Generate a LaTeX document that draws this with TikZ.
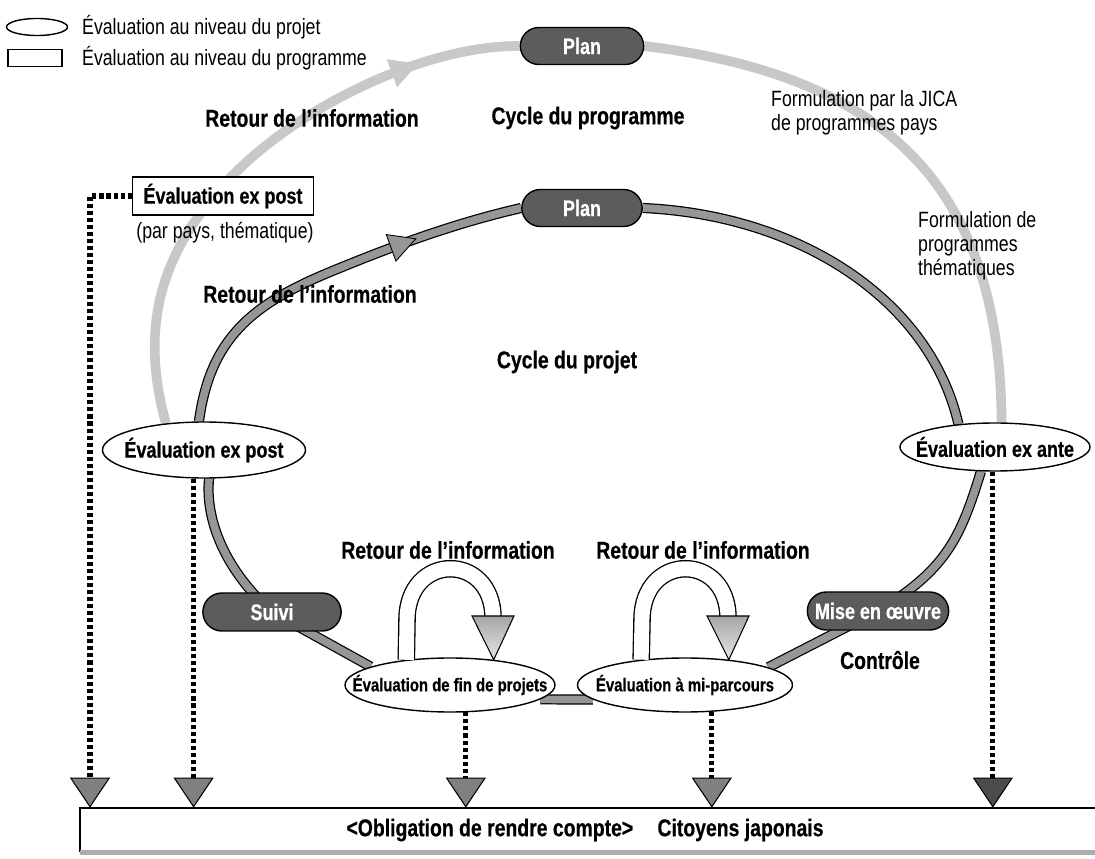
\documentclass[tikz,border=0pt]{standalone}
\usepackage{fontspec}
\setmainfont{Liberation Sans}[FakeStretch=0.8, BoldFeatures={FakeBold=0.5}]
\usepackage{tikz}
\usetikzlibrary{shapes.geometric, shapes.misc, arrows.meta, positioning, backgrounds, decorations.markings}
\definecolor{pillgray}{RGB}{92,92,92}
\definecolor{bandgray}{RGB}{150,150,150}
\definecolor{ringgray}{RGB}{200,200,200}

\tikzset{
    pill/.style={rounded rectangle, draw=black, line width=0.8pt, fill=pillgray, text=white,
        font=\bfseries\fontsize{12.8}{14}\selectfont, minimum height=7.4mm},
    projeval/.style={ellipse, draw=black, line width=0.8pt, fill=white, inner xsep=-30pt, inner ysep=0pt,
        font=\bfseries\fontsize{12.8}{14}\selectfont},
    progeval/.style={rectangle, draw=black, line width=1pt, fill=white, minimum width=36.2mm, minimum height=7.6mm,
        font=\bfseries\fontsize{12.8}{14}\selectfont},
    lbl/.style={font=\bfseries\fontsize{13.8}{16}\selectfont},
    note/.style={font=\fontsize{12.6}{13.8}\selectfont, align=left},
    progband/.style={draw=ringgray, line width=5.5pt},
    projband/.style={draw=bandgray, line width=4.4pt, preaction={draw=black, line width=5.8pt}},
    bandtip/.style 2 args={postaction={decorate, decoration={markings, mark=at position #1 with
        {\filldraw[#2, line width=0.5pt] (-7pt,-8pt) -- (8pt,0pt) -- (-7pt,8pt) -- cycle;}}}},
    dotline/.style={line width=3pt, dash pattern=on 2.3pt off 1.7pt,
        -{Triangle[width=8mm, length=6mm, line width=0.6pt, fill=#1]}},
    dotline/.default=black!50,
    ushaft/.style={draw=white, line width=8.5pt, preaction={draw=black, line width=10pt}},
    uhead/.style={draw=black, line width=0.6pt, top color=gray!70, bottom color=gray!20},
}

\begin{document}
\begin{tikzpicture}[x=0.2mm, y=-0.2mm]
    \useasboundingbox (0,0) rectangle (1095,859);

    % Legend
    \node[projeval, minimum width=12.2mm, minimum height=3.4mm] (legproj) at (37,27) {};
    \node[note, anchor=west] (legprojtxt) at (76,27) {Évaluation au niveau du projet};
    \node[progeval, minimum width=10.8mm, minimum height=3.4mm, line width=0.8pt] (legprog) at (35,58) {};
    \node[note, anchor=west] (legprogtxt) at (76,58) {Évaluation au niveau du programme};

    % Programme cycle
    \node[pill, minimum width=27mm] (plana) at (582,46) {Plan};
    \node[lbl] (retoura) at (312,118) {Retour de l’information};
    \node[lbl] (cycprog) at (588,118) {Cycle du programme};
    \node[note, anchor=north west] (formpays) at (765,84) {Formulation par la JICA\\de programmes pays};
    \node[progeval] (progbox) at (223,196) {Évaluation ex post};
    \node[note] (parpays) at (225,233) {(par pays, thématique)};
    \node[note, anchor=north west] (formthem) at (912,205) {Formulation de\\programmes\\thématiques};

    % Project cycle
    \node[pill, minimum width=26.4mm] (planb) at (582,208) {Plan};
    \node[lbl] (retourb) at (310,294) {Retour de l’information};
    \node[lbl] (cycproj) at (567,362) {Cycle du projet};
    \node[projeval, minimum width=40.6mm, minimum height=11.2mm] (expost) at (204,450) {Évaluation ex post};
    \node[projeval, minimum width=38mm, minimum height=9.6mm] (exante) at (995,447) {Évaluation ex ante};
    \node[pill, minimum width=30mm, minimum height=7.6mm] (suivi) at (272,612) {Suivi};
    \node[pill, minimum width=30.6mm, minimum height=7.6mm] (mise) at (878,611) {Mise en œuvre};
    \node[lbl] (controle) at (880,660) {Contrôle};
    \node[projeval, minimum width=42mm, minimum height=10.8mm, font=\bfseries\fontsize{10.6}{12}\selectfont] (fin) at (450,685) {Évaluation de fin de projets};
    \node[projeval, minimum width=43mm, minimum height=10.8mm, font=\bfseries\fontsize{10.6}{12}\selectfont] (mi) at (685,685) {Évaluation à mi-parcours};
    \node[lbl] (retourc) at (448,550) {Retour de l’information};
    \node[lbl] (retourd) at (703,550) {Retour de l’information};

    % Accountability box
    \node[minimum width=206mm, minimum height=8.8mm] (acc) at (595,830) {};
    \node[lbl] (acctxt) at (585,830) {<Obligation de rendre compte>\quad Citoyens japonais};
    \draw[line width=1.2pt] (acc.north east) -- (acc.north west) -- (acc.south west);
    \draw[gray!65, line width=3pt] (acc.south west) -- (acc.south east);

    % Bands
    \begin{scope}[on background layer]
        \fill[white] (0,0) rectangle (1095,859);
        \draw[progband, bandtip={0.8}{fill=ringgray, draw=ringgray}]
            (expost.145) .. controls (140,330) and (160,260) .. (215,195)
            .. controls (280,115) and (420,45) .. (plana.west);
        \draw[progband] (plana.east) .. controls (880,75) and (1000,180) .. (exante.75);
        \draw[projband, bandtip={0.7}{fill=bandgray, draw=black}]
            (expost.100) .. controls (210,340) and (250,305) .. (330,272)
            .. controls (400,243) and (460,222) .. (planb.west);
        \draw[projband] (planb.east) .. controls (800,215) and (930,300) .. (exante.148);
        \draw[projband] (exante.-120) .. controls (960,540) and (945,570) .. (mise.center);
        \draw[projband] (mise.center) -- (mi.12);
        \draw[projband] (mi.189) -- (fin.-9);
        \draw[projband] (fin.167) -- (suivi.center);
        \draw[projband] (suivi.center) .. controls (225,570) and (205,520) .. (expost.-80);
    \end{scope}

    % Feedback loops
    \draw[ushaft] (fin.150) -- (407,620) .. controls (407,552) and (493,552) .. (493,618);
    \shade[uhead] (472,616) -- (514,616) -- (fin.30) -- cycle;
    \draw[ushaft] (mi.150) -- (642,620) .. controls (642,552) and (728,552) .. (728,618);
    \shade[uhead] (707,616) -- (749,616) -- (mi.30) -- cycle;

    % Accountability arrows
    \coordinate (lcorner) at (90,196);
    \draw[dotline] (progbox.west) -- (lcorner) -- (lcorner |- acc.north);
    \draw[dotline] (expost.-110) -- (expost.-110 |- acc.north);
    \draw[dotline] (fin.-60) -- (fin.-60 |- acc.north);
    \draw[dotline] (mi.-45) -- (mi.-45 |- acc.north);
    \draw[dotline=black!70] (exante.-95) -- (exante.-95 |- acc.north);
\end{tikzpicture}
\end{document}
